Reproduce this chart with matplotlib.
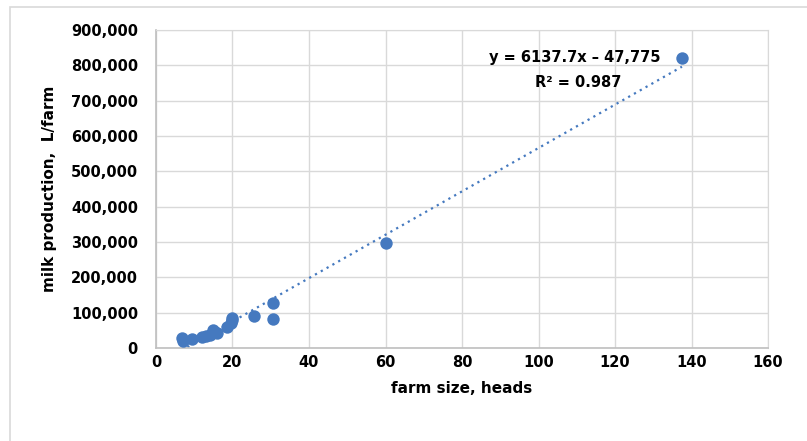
import numpy as np
import matplotlib.pyplot as plt
from matplotlib.patches import Rectangle
from matplotlib.ticker import FuncFormatter

# farm size (heads) vs milk production (L/farm)
farm_size = [6.7, 7.0, 9.5, 12.0, 13.0, 14.0, 15.0, 15.5, 16.0, 18.5, 19.5, 20.0, 20.0,
             25.5, 30.5, 30.5, 60.0, 137.5]
milk_prod = [28000, 21000, 25000, 32000, 35000, 38000, 50000, 45000, 42000, 58000, 72000,
             85000, 78000, 90000, 127000, 83000, 297000, 820000]

# trendline coefficients shown on the chart
slope = 6137.7
intercept = -47775
r2 = 0.987

blue = '#4579BF'

fig = plt.figure(figsize=(8.07, 4.41), dpi=100)
# outer chart frame (only left and top edges are visible in the crop)
fig.patches.append(Rectangle((10 / 807, -0.1), 1.0, 1.1 - 7 / 441, transform=fig.transFigure,
                             fill=False, edgecolor='#d9d9d9', linewidth=1.2))
ax = fig.add_axes([0.1933, 0.2109, 0.7584, 0.7211])

xs = np.array([min(farm_size), max(farm_size)])
ax.plot(xs, slope * xs + intercept, linestyle=(0, (1, 2)), color=blue, linewidth=1.6, zorder=2)
ax.scatter(farm_size, milk_prod, s=80, color=blue, zorder=3, linewidths=0)

ax.set_xlim(0, 160)
ax.set_ylim(0, 900000)
ax.set_xticks(range(0, 161, 20))
ax.set_yticks(range(0, 900001, 100000))
ax.yaxis.set_major_formatter(FuncFormatter(lambda v, p: f'{int(v):,}'))
ax.grid(True, color='#d9d9d9', linewidth=1.0)
ax.set_axisbelow(True)
for side in ['top', 'right']:
    ax.spines[side].set_color('#d9d9d9')
for side in ['left', 'bottom']:
    ax.spines[side].set_color('#bfbfbf')
    ax.spines[side].set_linewidth(1.2)
ax.tick_params(axis='both', length=0, labelsize=10.5)
ax.tick_params(axis='y', pad=13)
ax.tick_params(axis='x', pad=5)
for lab in ax.get_xticklabels() + ax.get_yticklabels():
    lab.set_fontweight('bold')

ax.set_xlabel('farm size, heads', fontsize=11, fontweight='bold', labelpad=8)
ax.set_ylabel('milk production,  L/farm', fontsize=11, fontweight='bold', labelpad=10)

ax.text(132, 821000, f'y = {slope}x \u2013 {-intercept:,}', ha='right', va='center',
        fontsize=10.5, fontweight='bold')
ax.text(110.5, 752000, f'R\u00b2 = {r2}', ha='center', va='center',
        fontsize=10.5, fontweight='bold')

fig.savefig('out.png', dpi=100)
